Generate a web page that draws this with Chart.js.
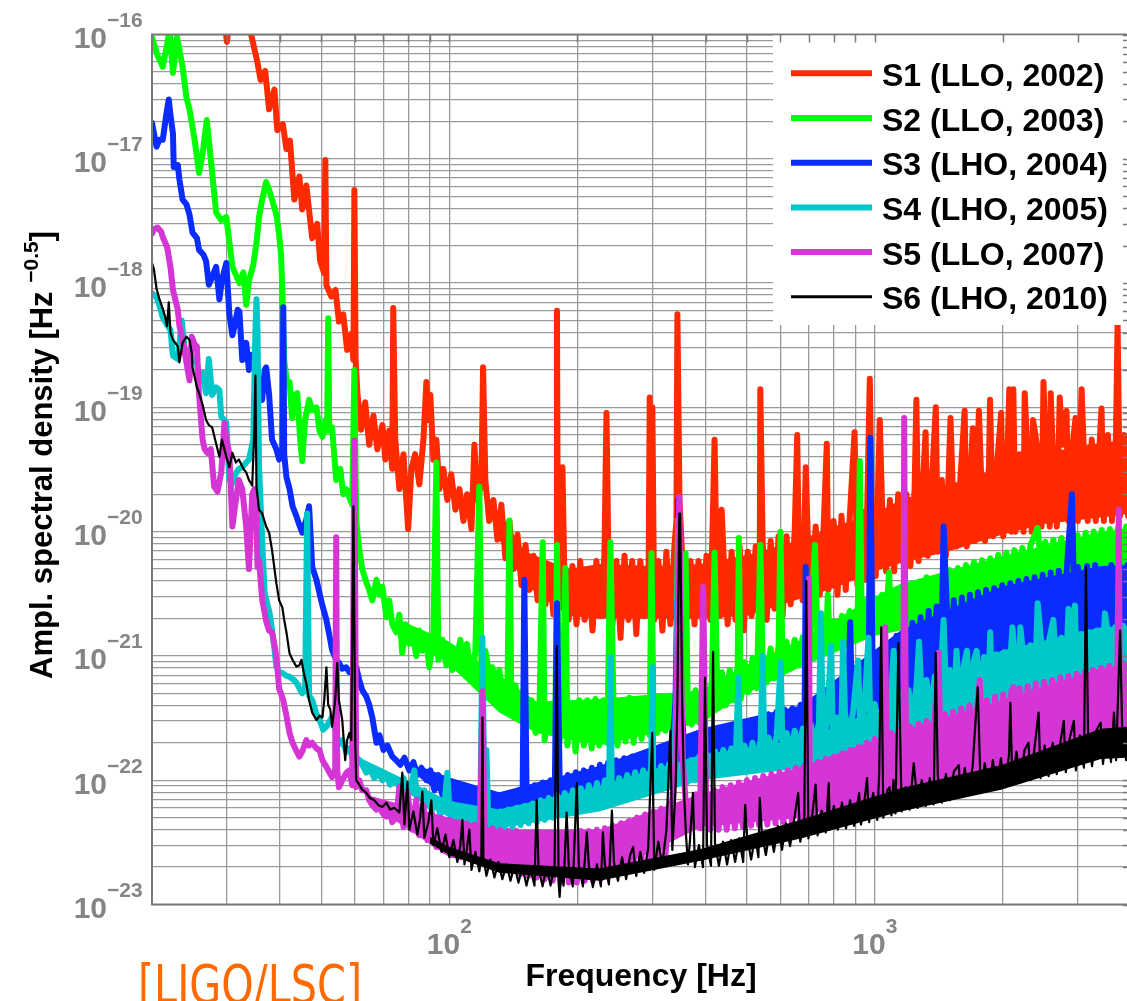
<!DOCTYPE html>
<html><head><meta charset="utf-8">
<script src="https://cdn.jsdelivr.net/npm/chart.js@4.4.1/dist/chart.umd.min.js"></script>
<style>html,body{margin:0;padding:0;overflow:hidden;background:#fff}canvas{display:block}</style>
</head><body>
<canvas id="c" width="1136" height="1001"></canvas>
<script>
// ---- data: [frequency Hz, amplitude spectral density Hz^-0.5] ----
const seriesLabels = ['S1 (LLO, 2002)','S2 (LLO, 2003)','S3 (LHO, 2004)','S4 (LHO, 2005)','S5 (LLO, 2007)','S6 (LHO, 2010)'];
const seriesColors = ['#ff2a00','#00ff00','#0a2cff','#00c8c8','#d535d5','#000000'];

const s1 = [[20,5e-16],[28.5,2.5e-16],[29.6,1.3e-16],[30,8.7e-17],[30.4,1.3e-16],[31,2e-16],[33.5,1.5e-16],[34.2,1e-16],[35.3,6.2e-17],[36,4.3e-17],[36.9,5.1e-17],[37.7,2.5e-17],[38.8,3.6e-17],[39.4,1.7e-17],[40.6,1.9e-17],[41.4,1.2e-17],[42.2,1.4e-17],[43.2,4.7e-18],[44.4,7.2e-18],[45.1,3.9e-18],[46.1,6.1e-18],[47.6,2.3e-18],[48.9,3e-18],[49.7,1.5e-18],[50.8,1.2e-18],[51.1,9.8e-18],[51.4,9.6e-19],[52.8,7.8e-19],[54,8.8e-19],[55,4.9e-19],[56.3,5.6e-19],[57.5,2.9e-19],[58.8,3.9e-19],[59.5,2.4e-19],[59.8,5.6e-18],[60.2,2.4e-19],[60.8,1.3e-19],[62,6.6e-20],[63.4,1.1e-19],[64.8,5e-20],[66.3,8.6e-20],[67.7,4.6e-20],[69.6,7.2e-20],[70.7,3.8e-20],[72.2,6.5e-20],[73.4,3.2e-20],[73.8,6.3e-19],[74.6,5.5e-20],[76.3,2.2e-20],[78,4.2e-20],[79.2,1.8e-20],[80,1.05e-20],[81.4,3.2e-20],[83.1,4.2e-20],[85,2.4e-20],[86.9,5.5e-20],[88.3,1.6e-19],[89.3,7.9e-20],[90.2,1.26e-19],[91.7,3.8e-20],[93.2,5.5e-20],[94.7,2.2e-20],[96.8,3.2e-20],[98.9,1.8e-20],[101,2.9e-20],[103.3,1.5e-20],[105.6,2.2e-20],[107.9,1.22e-20],[110,2e-20],[112.7,1.05e-20],[114.5,5e-20],[116.4,1.8e-20],[118.9,2.4e-20],[120,2.1e-19],[121.5,2.6e-20],[124,1.22e-20],[126.9,1.8e-20],[129.7,8.6e-21],[132.5,1.65e-20],[135.4,6.1e-21],[138.4,1.22e-20],[141.4,5e-21],[144.6,9.5e-21],[147.7,3.7e-21],[151,7.8e-21],[154.3,3.4e-21],[157.7,6.4e-21],[161.2,2.8e-21],[164.6,5.8e-21],[168.2,2.6e-21],[172,5.3e-21],[175.6,2.15e-21],[178.3,2.8e-21],[179,6e-19],[180,2.8e-21],[181.6,5.8e-21],[183.4,2.8e-21],[184.4,3.3e-20],[186.4,4.1e-21],[190.6,1.95e-21],[194.7,5.3e-21],[199,1.8e-21],[203,5.8e-21],[208,1.95e-21],[212,5e-21],[217,1.6e-21],[221.6,5.8e-21],[226.5,2.1e-21],[231.4,6.4e-21],[234,9e-20],[236.5,5.8e-21],[241.7,1.8e-21],[247,5.8e-21],[252.5,1.4e-21],[258,6.4e-21],[263.6,1.95e-21],[269,5.8e-21],[275,1.5e-21],[281,5.8e-21],[288,2.1e-21],[294,5.3e-21],[295.7,1.2e-19],[298.5,5.8e-21],[300,1e-19],[303,1.95e-21],[310,5.8e-21],[316.7,1.6e-21],[323.6,6.9e-21],[330.7,1.8e-21],[338,7.6e-21],[341.7,1.22e-20],[343.5,5.6e-19],[347.4,1.8e-20],[353,5.8e-21],[360.8,1.95e-21],[368.7,5.8e-21],[376.8,1.8e-21],[385,5.8e-21],[393.5,1.95e-21],[402,6.4e-21],[410.9,1.95e-21],[420,5.5e-20],[424.6,5.8e-21],[431.8,2.1e-21],[436.5,1.5e-20],[441,6.4e-21],[450.8,1.8e-21],[460.6,6.9e-21],[470.7,1.95e-21],[481,7.6e-21],[491.6,1.6e-21],[502.5,6.9e-21],[513.5,2.1e-21],[524.7,7.6e-21],[536,2.4e-21],[538,1.4e-19],[544.8,8.4e-21],[556.7,1.95e-21],[569,8.4e-21],[581,2.4e-21],[594,9.2e-21],[607,2.1e-21],[620,9.2e-21],[634,2.6e-21],[648,1e-20],[657,6e-20],[662,8.4e-21],[676.5,2.8e-21],[688,3.3e-20],[695,1e-20],[710,2.8e-21],[726,1.1e-20],[742,3.1e-21],[758,1.1e-20],[771,5.1e-20],[777.6,3.4e-21],[800,1.22e-20],[817,3.1e-21],[835,1.34e-20],[854,3.4e-21],[872,1.22e-20],[896,6.3e-20],[910,3.7e-21],[931,1.46e-20],[952,4.1e-21],[973,1.7e-19],[983,1.46e-20],[1005,4.4e-21],[1027,7.9e-20],[1040,1.6e-20],[1063,4.8e-21],[1085,1.8e-20],[1110,4.8e-21],[1135,2e-20],[1160,5.8e-21],[1186,2e-20],[1212,5.3e-21],[1240,2.2e-20],[1252,1.15e-19],[1267,5.8e-21],[1295,2.2e-20],[1316,6.3e-20],[1331,6.4e-21],[1360,2.4e-20],[1391,1e-19],[1406,6.9e-21],[1437,2.6e-20],[1469,6.4e-21],[1506,8.2e-20],[1522,2.6e-20],[1556,7.6e-21],[1591,2.9e-20],[1626,9.4e-20],[1644,7.6e-21],[1681,3.2e-20],[1699,6.8e-20],[1718,8.4e-21],[1756,9.4e-20],[1775,3.2e-20],[1815,8.4e-21],[1855,3.5e-20],[1865,1.15e-19],[1896,9.2e-21],[1938,3.5e-20],[1981,9e-20],[2003,9.2e-21],[2048,3.9e-20],[2070,1.4e-19],[2093,1e-20],[2116,1.4e-19],[2140,1e-20],[2188,4.2e-20],[2236,1e-20],[2250,1.3e-19],[2286,4.2e-20],[2337,1e-20],[2354,7.9e-20],[2412,4.6e-20],[2465,1.1e-20],[2491,1.6e-19],[2520,4.6e-20],[2577,1.1e-20],[2590,1.3e-19],[2619,4.6e-20],[2677,1.1e-20],[2720,1.2e-19],[2760,5e-20],[2822,9.4e-20],[2850,1.22e-20],[2916,5e-20],[2963,8.2e-20],[3000,1.22e-20],[3062,1.4e-19],[3095,5e-20],[3165,1.22e-20],[3235,5.5e-20],[3306,1.22e-20],[3379,5.5e-20],[3410,9.8e-20],[3453,1.22e-20],[3530,6e-20],[3608,1.22e-20],[3688,6e-20],[3720,4.8e-19],[3769,1.34e-20],[3853,6e-20],[3938,1.34e-20],[4000,5.5e-20]];

const s2 = [[20,9.5e-17],[20.6,6.8e-17],[21.2,5.5e-17],[21.7,8.2e-17],[22,1.1e-16],[22.4,4.9e-17],[22.9,9.5e-17],[23.2,7.5e-17],[23.6,5.5e-17],[24.1,3.1e-17],[24.5,2.5e-17],[25.2,1.4e-17],[25.8,7.7e-18],[26.3,1.1e-17],[26.9,2.05e-17],[27.5,9.8e-18],[28.3,3.7e-18],[29.1,3.2e-18],[29.9,3.4e-18],[30.9,1.35e-18],[32.1,1e-18],[32.8,1.22e-18],[33.3,6.7e-19],[33.8,1.05e-18],[34.6,1.4e-18],[35.2,2.1e-18],[35.7,3.4e-18],[36.3,4.7e-18],[37.1,6.5e-18],[37.7,5.6e-18],[38.3,4.7e-18],[39.2,3.55e-18],[39.8,2.45e-18],[40.2,1.7e-18],[40.5,8.8e-19],[40.9,2.4e-19],[41.6,1.5e-19],[42.1,1.6e-19],[42.7,8.2e-20],[43.4,1.26e-19],[43.9,1.3e-19],[44.6,5.5e-20],[45.1,3.7e-20],[45.8,7.9e-20],[46.8,1.15e-19],[47.6,9.5e-20],[48.7,1e-19],[49.5,6.5e-20],[50.3,5.8e-20],[51.1,7.9e-20],[51.6,6.5e-20],[51.9,5.2e-19],[52.2,6.5e-20],[53,6.9e-20],[54.2,2.6e-20],[55.4,3.2e-20],[56.3,2e-20],[57.2,2.2e-20],[58.5,1.8e-20],[59.1,1.65e-20],[59.8,2e-19],[60.4,1.23e-20],[61.4,7.2e-21],[62.4,5e-21],[63.8,3.9e-21],[64.8,3.4e-21],[65.9,2.8e-21],[67.4,4.1e-21],[68.5,3.1e-21],[69.6,3.6e-21],[71.1,2.05e-21],[72.2,2.8e-21],[73.4,1.8e-21],[75,1.55e-21],[76.3,2.15e-21],[77.5,1.05e-21],[78.8,1.8e-21],[80.5,1.25e-21],[81.8,1.55e-21],[83.6,1e-21],[85,1.6e-21],[86.4,1.1e-21],[88.3,1.35e-21],[89.7,8.1e-22],[91.7,1.45e-21],[93.2,3.6e-20],[94.2,9.3e-22],[96.3,1.35e-21],[98.4,8.4e-22],[100,1.1e-21],[101.6,7.7e-22],[103.9,9.3e-22],[106.1,1.35e-21],[108.5,7.7e-22],[110,1.25e-21],[112.7,6.4e-22],[115.1,1.1e-21],[117.6,2.3e-20],[118.9,8.4e-22],[121.5,1.1e-21],[124.2,7e-22],[126.3,8.1e-22],[129,5.3e-22],[131,7.7e-22],[134,4.4e-22],[137,6.4e-22],[138.4,1.23e-20],[139.9,4e-22],[143,5.8e-22],[146,3.3e-22],[149.3,5.3e-22],[152.6,3.2e-22],[156,4.4e-22],[159.5,2.4e-22],[163,4.4e-22],[165.7,8.2e-21],[167.4,2.1e-22],[171,4e-22],[174.8,2.5e-22],[177.6,4e-22],[179,7.8e-21],[181.6,2.1e-22],[184.4,4e-22],[187.4,5.1e-21],[189.4,1.9e-22],[193.6,4e-22],[198,1.7e-22],[202,4.4e-22],[207,1.9e-22],[211,4.4e-22],[216,1.8e-22],[220.5,4.5e-22],[225,1.9e-22],[230,4.4e-22],[235,2e-22],[239,8.2e-21],[243,4.4e-22],[248.5,1.9e-22],[254,4.4e-22],[259.5,2.05e-22],[265,4.6e-22],[271,2e-22],[277,4.5e-22],[283,2.15e-22],[289,4.4e-22],[295.6,2.3e-22],[298.5,6.7e-21],[301.5,4.4e-22],[308,2.4e-22],[315,4.4e-22],[322,2.5e-22],[329,4.5e-22],[336,2.6e-22],[341,4.7e-22],[344.6,1e-20],[348,4.5e-22],[351,2.7e-22],[359,6.7e-21],[363,5e-22],[371,2.8e-22],[379,5.3e-22],[387,2.9e-22],[396,5.8e-22],[405,3.3e-22],[414,6.4e-22],[420,6.8e-21],[427,3.8e-22],[437,7.4e-22],[446,4e-22],[456,7.7e-22],[466,4.4e-22],[476,8.4e-22],[479,8.9e-21],[484,4.5e-22],[494,8.9e-22],[505,5.1e-22],[516,9.6e-22],[528,5.5e-22],[538,7.8e-21],[544,1.07e-21],[556,6.1e-22],[569,1.15e-21],[581,6.6e-22],[594,1.2e-21],[600,1e-20],[607,7.3e-22],[620,1.3e-21],[634,7.9e-22],[648,1.35e-21],[662,8.4e-22],[677,1.42e-21],[692,8.9e-22],[707,1.55e-21],[723,7.8e-21],[735,1e-21],[751,1.75e-21],[767,1.1e-21],[775,3.1e-21],[784,1.16e-21],[801,1.9e-21],[819,1.22e-21],[837,2.1e-21],[855,1.35e-21],[873,2.3e-21],[893,1.45e-21],[912,2.55e-21],[922,3.7e-20],[932,1.55e-21],[952,2.8e-21],[973,1.65e-21],[995,2.95e-21],[1016,1.75e-21],[1039,3.1e-21],[1062,1.95e-21],[1080,4.7e-21],[1093,2.05e-21],[1117,3.4e-21],[1142,2.15e-21],[1167,3.6e-21],[1193,2.25e-21],[1219,3.7e-21],[1246,2.45e-21],[1274,3.9e-21],[1302,2.55e-21],[1323,4.3e-21],[1345,2.65e-21],[1375,4.2e-21],[1405,2.8e-21],[1436,4.4e-21],[1468,2.9e-21],[1500,4.9e-21],[1533,3.1e-21],[1567,5.1e-21],[1602,3.2e-21],[1637,5.4e-21],[1673,3.4e-21],[1710,5.7e-21],[1748,3.5e-21],[1787,5.9e-21],[1826,3.7e-21],[1867,6.1e-21],[1908,3.9e-21],[1950,6.5e-21],[1993,4.1e-21],[2037,6.8e-21],[2082,4.2e-21],[2128,7.1e-21],[2175,4.5e-21],[2223,7.4e-21],[2272,4.7e-21],[2323,7.8e-21],[2414,1.07e-20],[2460,4.9e-21],[2515,8.3e-21],[2570,5.1e-21],[2627,8.6e-21],[2685,5.4e-21],[2745,8.9e-21],[2805,5.6e-21],[2867,9.2e-21],[2930,5.7e-21],[2995,9.4e-21],[3062,5.9e-21],[3130,9.8e-21],[3199,6.2e-21],[3269,1e-20],[3342,6.4e-21],[3415,1.03e-20],[3491,6.5e-21],[3568,1.05e-20],[3647,6.8e-21],[3727,1.07e-20],[3810,6.9e-21],[3894,1.1e-20],[4000,7e-21]];

const s3 = [[20,1.94e-17],[20.5,1.25e-17],[20.8,1.42e-17],[21.2,1.42e-17],[21.6,2.25e-17],[21.9,3e-17],[22.1,2.25e-17],[22.4,1.6e-17],[22.5,8.6e-18],[23,8.9e-18],[23.2,6.8e-18],[23.6,4.7e-18],[24.1,4.3e-18],[24.5,3.55e-18],[24.9,2.55e-18],[25.5,2.3e-18],[25.8,1.85e-18],[26.4,1.7e-18],[26.8,1.5e-18],[27.2,9.7e-19],[27.7,1.12e-18],[28.3,1.35e-18],[28.8,7.4e-19],[29.2,1.06e-18],[29.9,1.45e-18],[30.4,5.6e-19],[30.9,3.8e-19],[31.3,4.6e-19],[31.8,6.1e-19],[32.1,5.9e-19],[32.6,2.4e-19],[33.3,3.3e-19],[33.8,2e-19],[34.4,2.65e-19],[35.2,2.2e-19],[35.7,1.38e-19],[36.3,1.15e-19],[36.8,2e-19],[37.1,2.1e-19],[37.7,1.26e-19],[38.3,5.5e-20],[39.2,4.6e-20],[39.8,3.8e-20],[40.5,4.2e-20],[40.7,6.4e-19],[40.9,4.2e-20],[41.4,2.75e-20],[42.1,2.2e-20],[42.8,1.6e-20],[43.6,1.36e-20],[44.4,1.13e-20],[45.1,9.8e-21],[46.1,1.25e-20],[46.8,1.6e-20],[47.6,5.2e-21],[48.7,4.1e-21],[49.5,3.2e-21],[50.3,2.55e-21],[51.4,1.95e-21],[52.2,1.48e-21],[53,1.12e-21],[54.2,9.3e-22],[55,8.8e-22],[56,7.9e-22],[57.2,8.1e-22],[58.2,7.4e-22],[59.5,7.9e-22],[60.4,8.1e-22],[61.4,6.4e-22],[62.4,5.3e-22],[63.8,4.7e-22],[64.8,4.05e-22],[65.9,3.2e-22],[67.4,2e-22],[68.5,2.3e-22],[70,1.75e-22],[71.5,1.9e-22],[73.4,1.55e-22],[75,1.45e-22],[76.7,1.33e-22],[78.4,1.52e-22],[80.5,1.2e-22],[82.3,1.4e-22],[84.1,1.1e-22],[86,1.26e-22],[88.3,1e-22],[90.2,1.2e-22],[92.2,8.3e-23],[94.2,1.1e-22],[96.3,7.6e-23],[98.4,1e-22],[100.5,6.9e-23],[102.7,9.2e-23],[105,6.3e-23],[107.3,8.3e-23],[109.6,5.8e-23],[112,8e-23],[114.5,5.3e-23],[117,7.6e-23],[119.6,4.8e-23],[122.2,7.3e-23],[124.9,4.6e-23],[127.6,7.6e-23],[130.4,4.4e-23],[133.2,7.6e-23],[136.2,4.6e-23],[139.2,7.9e-23],[142.2,4.8e-23],[145.3,8.3e-23],[148.5,5e-23],[150,4.1e-21],[151.8,8.6e-23],[155,5.3e-23],[158.5,9.1e-23],[162,5.5e-23],[165.6,9.6e-23],[169.2,5.8e-23],[172.9,1e-22],[176.7,6e-23],[179,2.65e-21],[181.6,1.05e-22],[185.6,6.3e-23],[189.7,1.1e-22],[193.9,6.5e-23],[198.2,1.16e-22],[202.6,6.9e-23],[207,1.2e-22],[211.6,7.2e-23],[216.2,1.26e-22],[221,7.6e-23],[225.8,1.33e-22],[230.8,7.6e-23],[235.9,1.38e-22],[241.1,8e-23],[246.4,1.45e-22],[251.9,8.3e-23],[257.4,1.5e-22],[263.1,8.6e-23],[268.9,1.55e-22],[274.8,9e-23],[280.8,1.6e-22],[287,9.3e-23],[293.3,1.65e-22],[299.8,9.6e-23],[306.4,1.75e-22],[313.1,1e-22],[320,1.8e-22],[327,1.04e-22],[334.2,1.9e-22],[340,4.3e-22],[343,2.7e-21],[344.6,1.8e-20],[346,2.7e-21],[350,4.3e-22],[356,2e-22],[363,2.05e-22],[371,1.26e-22],[379.6,2.2e-22],[388,1.33e-22],[396.6,2.3e-22],[405,1.38e-22],[414,2.4e-22],[423,1.45e-22],[432,2.5e-22],[442,1.55e-22],[451.9,2.65e-22],[462,1.6e-22],[472,2.8e-22],[482,1.7e-22],[493,2.95e-22],[504,1.75e-22],[515,3.05e-22],[526,1.8e-22],[538,3.2e-22],[550,1.9e-22],[562,3.4e-22],[574,2e-22],[587,3.55e-22],[600,2.1e-22],[613,3.7e-22],[626,2.2e-22],[640,3.8e-22],[654,2.3e-22],[669,4.05e-22],[683,2.3e-22],[688,5.2e-21],[698,4.2e-22],[713,2.4e-22],[729,4.4e-22],[745,2.5e-22],[761,4.6e-22],[778,2.6e-22],[795,4.85e-22],[812,2.8e-22],[830,5.1e-22],[848,2.95e-22],[866,5.5e-22],[875,1.87e-21],[885,3.2e-22],[905,6.4e-22],[925,3.4e-22],[945,7.4e-22],[966,3.55e-22],[976,5.7e-20],[987,8.9e-22],[1009,3.7e-22],[1031,1.07e-21],[1053,4.05e-22],[1077,1.22e-21],[1100,4.2e-22],[1124,1.45e-21],[1149,4.4e-22],[1174,1.65e-21],[1200,4.5e-22],[1226,1.85e-21],[1253,4.8e-22],[1281,2.05e-21],[1309,5.1e-22],[1338,2.3e-21],[1367,5.3e-22],[1397,2.5e-21],[1428,5.5e-22],[1451,1.1e-20],[1475,2.65e-21],[1500,5.8e-22],[1533,2.8e-21],[1567,6.4e-22],[1602,2.95e-21],[1637,7e-22],[1673,3.1e-21],[1710,7.7e-22],[1748,3.25e-21],[1787,8.4e-22],[1826,3.4e-21],[1867,9.3e-22],[1908,3.5e-21],[1950,9.8e-22],[1993,3.7e-21],[2037,1.04e-21],[2082,3.85e-21],[2128,1.1e-21],[2175,4e-21],[2223,1.16e-21],[2272,4.15e-21],[2323,1.22e-21],[2374,4.3e-21],[2426,1.27e-21],[2480,4.5e-21],[2535,1.35e-21],[2590,4.7e-21],[2648,1.4e-21],[2706,4.85e-21],[2766,1.45e-21],[2827,5.05e-21],[2905,2e-20],[2953,1.5e-21],[3000,5.2e-21],[3086,1.55e-21],[3154,5.3e-21],[3223,1.6e-21],[3294,5.4e-21],[3367,1.65e-21],[3441,4.1e-21],[3517,3.3e-21],[3594,5.4e-21],[3673,1.7e-21],[3754,5.4e-21],[3837,1.75e-21],[3921,5.4e-21],[4000,1.78e-21]];

const s4 = [[20,8.3e-19],[20.5,7.7e-19],[20.8,6.7e-19],[21.2,5.3e-19],[21.7,4.6e-19],[22.1,4.2e-19],[22.4,2.6e-19],[23,2.45e-19],[23.2,3.2e-19],[23.5,5e-19],[23.8,3.2e-19],[24.1,2.65e-19],[24.5,2.8e-19],[24.9,2.45e-19],[25.5,2.3e-19],[25.8,1.7e-19],[26.3,1.9e-19],[26.8,1.3e-19],[27.2,2.45e-19],[27.7,1.26e-19],[28.3,1.45e-19],[28.8,1.38e-19],[29.1,8.4e-20],[29.6,7.9e-20],[29.9,7.5e-20],[30.4,2.6e-20],[30.9,2.45e-20],[31.5,2.95e-20],[32,3.2e-20],[32.6,3.3e-20],[33.3,3.6e-20],[33.8,3.8e-20],[34.6,5.5e-20],[35,4.2e-19],[35.2,7.4e-19],[35.4,4.2e-19],[35.7,3.3e-20],[36.3,8.6e-21],[36.8,3.2e-21],[37.1,2.85e-21],[37.7,2.3e-21],[38.1,1.85e-21],[38.7,1.23e-21],[39.2,8.2e-22],[39.8,7.4e-22],[40.5,7.3e-22],[41.4,6.9e-22],[42.1,6.8e-22],[43.1,6.4e-22],[43.7,6.1e-22],[44.4,5.5e-22],[45.1,5e-22],[45.8,5.3e-22],[46.3,1.4e-20],[46.8,4.8e-22],[47.6,4.4e-22],[48.7,3.4e-22],[49.5,3.1e-22],[50.5,2.55e-22],[51.4,2.7e-22],[52.2,2.95e-22],[53,3.25e-22],[54.2,2.35e-22],[55,1.95e-22],[56,2.1e-22],[57.2,1.7e-22],[58.2,1.8e-22],[59.1,1.55e-22],[59.8,4.4e-22],[60.4,1.55e-22],[61.4,1.45e-22],[62.4,1.33e-22],[63.8,1.15e-22],[65,1.26e-22],[66.6,1.04e-22],[68.1,1.16e-22],[69.6,1e-22],[71.1,1.1e-22],[72.6,9.2e-23],[74.2,1.04e-22],[76.3,8.8e-23],[78,1.04e-22],[79.7,8.3e-23],[81.8,1e-22],[82.7,1.2e-22],[83.6,8.3e-23],[85.4,7.2e-23],[87.3,8.3e-23],[89.3,6.3e-23],[91.2,5.8e-23],[93.2,6.9e-23],[95.2,5.3e-23],[97.3,6.3e-23],[98.9,1.15e-22],[100,6e-23],[102.2,5e-23],[104.4,6e-23],[106.7,4.6e-23],[109.1,5.8e-23],[111.4,4.4e-23],[113.9,5.6e-23],[116.4,4.2e-23],[118.2,5.6e-23],[119.6,1.4e-21],[120.9,5.6e-23],[122.2,1.75e-22],[123.5,4.2e-23],[126.3,5.6e-23],[129,4e-23],[131.8,5.6e-23],[134.7,4e-23],[137.7,5.8e-23],[140.7,4.2e-23],[143.8,6e-23],[147,4.35e-23],[150.2,6.2e-23],[153.5,4.5e-23],[156.9,6.5e-23],[160.4,4.6e-23],[163.9,6.9e-23],[167.5,4.8e-23],[171.2,7.2e-23],[174.9,5e-23],[178.8,7.6e-23],[182.7,5.3e-23],[186.7,7.9e-23],[190.8,5.5e-23],[195,8.3e-23],[199.3,5.8e-23],[203.7,8.6e-23],[208.2,6e-23],[212.7,9.1e-23],[217.4,6.2e-23],[222.2,9.5e-23],[227,6.4e-23],[232,1e-22],[237.1,6.6e-23],[239.3,9.8e-22],[240.7,1e-22],[245.2,6.9e-23],[250.6,1.04e-22],[256.1,7.2e-23],[261.7,1.1e-22],[267.5,7.6e-23],[273.4,1.16e-22],[279.4,7.9e-23],[285.5,1.2e-22],[291.8,8.1e-23],[298.2,1.26e-22],[299.8,8.1e-22],[301,1.26e-22],[307.7,8.4e-23],[314.4,1.3e-22],[321.3,8.8e-23],[328.4,1.35e-22],[335.6,1e-22],[341.6,4.4e-22],[344.8,1.25e-20],[348.3,4.4e-22],[354,1.33e-22],[361.9,9.6e-23],[369.9,1.45e-22],[378.1,1e-22],[386.4,1.55e-22],[394.9,1.06e-22],[403.6,1.6e-22],[412.5,1.12e-22],[421.6,1.7e-22],[430.9,1.16e-22],[440.4,1.75e-22],[450.1,1.2e-22],[460,1.8e-22],[470.1,1.26e-22],[478,6.7e-22],[483.2,1.33e-22],[493.9,1.9e-22],[504.8,1.33e-22],[515.9,2e-22],[527.3,1.4e-22],[538.9,2.1e-22],[544.8,1e-21],[550.8,1.45e-22],[562.9,2.2e-22],[575.3,1.55e-22],[588,2.3e-22],[601,8.9e-22],[607,1.6e-22],[620,2.4e-22],[634,1.7e-22],[648,2.5e-22],[662,1.75e-22],[677,2.6e-22],[692,1.8e-22],[707,2.8e-22],[723,1.95e-22],[739,2.9e-22],[747,2.2e-21],[755,2e-22],[772,3e-22],[789,1.2e-21],[797,2.1e-22],[815,3.2e-22],[833,2.2e-22],[842,1.3e-21],[851,3.4e-22],[870,2.3e-22],[889,3.55e-22],[913,9.2e-22],[925,2.4e-22],[945,3.8e-22],[966,1.4e-21],[977,2.5e-22],[999,4.1e-22],[1021,2.5e-22],[1044,4.4e-22],[1067,2.6e-22],[1091,4.65e-22],[1107,1.1e-21],[1124,2.6e-22],[1149,5e-22],[1174,2.8e-22],[1200,5.3e-22],[1226,3e-22],[1253,5.8e-22],[1270,1.3e-21],[1295,3.2e-22],[1323,6.4e-22],[1352,3.3e-22],[1382,6.8e-22],[1413,3.4e-22],[1451,1.95e-21],[1475,3.5e-22],[1500,7.7e-22],[1533,3.7e-22],[1556,1.1e-21],[1584,3.9e-22],[1619,8.4e-22],[1646,1.1e-21],[1673,4.1e-22],[1710,9.2e-22],[1735,1.1e-21],[1767,4.3e-22],[1806,9.8e-22],[1846,4.5e-22],[1867,1.55e-21],[1887,4.6e-22],[1929,1.03e-21],[1971,4.7e-22],[2015,1.07e-21],[2059,4.7e-22],[2105,1.7e-21],[2128,1.1e-21],[2175,4.9e-22],[2198,1.7e-21],[2223,1.16e-21],[2272,5e-22],[2323,1.22e-21],[2374,5.1e-22],[2414,2.65e-21],[2460,1.3e-21],[2515,5.2e-22],[2570,1.35e-21],[2628,1.95e-21],[2685,5.4e-22],[2745,1.4e-21],[2805,5.5e-22],[2852,2.4e-21],[2900,1.45e-21],[2953,2.55e-21],[2985,5.6e-22],[3050,1.5e-21],[3118,5.8e-22],[3186,1.55e-21],[3256,5.9e-22],[3327,1.6e-21],[3400,6e-22],[3474,2.2e-21],[3517,1.65e-21],[3594,6.2e-22],[3673,1.7e-21],[3754,6.4e-22],[3837,1.75e-21],[3921,6.6e-22],[4000,1.78e-21]];

const s5 = [[20,2.5e-18],[20.2,2.7e-18],[20.6,2.8e-18],[21,2.6e-18],[21.2,2.35e-18],[21.7,1.95e-18],[22.1,1.35e-18],[22.4,8.8e-19],[23,6.1e-19],[23.2,4.5e-19],[23.6,3.5e-19],[24.1,2.3e-19],[24.5,1.65e-19],[24.8,3.7e-19],[25.2,3.2e-19],[25.5,3.1e-19],[25.8,1.26e-19],[26.3,5.5e-20],[26.6,4.6e-20],[27,4.3e-20],[27.5,4.6e-20],[28,2.3e-20],[28.5,2.1e-20],[29.1,3e-20],[29.6,7.5e-20],[29.9,5.5e-20],[30.4,4.3e-20],[30.9,1.1e-20],[31.5,1.8e-20],[32,2.6e-20],[32.6,2.2e-20],[33.3,1.1e-20],[33.8,5e-21],[34.4,2e-20],[34.8,2.2e-20],[35.2,1.25e-20],[35.4,5.2e-21],[35.7,5.9e-21],[36.3,2.85e-21],[37.1,1.9e-21],[37.7,1.6e-21],[38.3,1.55e-21],[39,1.12e-21],[39.4,8.2e-22],[39.8,5.4e-22],[40.2,5e-22],[40.7,4.4e-22],[41.4,3.3e-22],[42.1,2.4e-22],[42.8,2e-22],[43.4,1.8e-22],[44.4,1.55e-22],[45.1,1.7e-22],[46.1,2.1e-22],[46.8,1.9e-22],[47.6,2e-22],[48.7,1.8e-22],[49.5,1.75e-22],[50.3,1.45e-22],[51.4,1.28e-22],[52.2,1.16e-22],[53,1.06e-22],[53.9,1.2e-22],[54.2,9e-21],[54.5,1.2e-22],[55,8.8e-23],[56,1e-22],[57.2,1.14e-22],[58.2,1.2e-22],[59.1,9.1e-23],[59.8,5.4e-20],[60.4,8.8e-23],[61.4,1e-22],[62.4,8.3e-23],[63.8,8.3e-23],[64.8,6.9e-23],[65.9,6.3e-23],[67.4,5.8e-23],[68.5,6e-23],[70,5.3e-23],[71.1,5.1e-23],[72.2,5.6e-23],[73.4,4.6e-23],[75,5e-23],[76.3,8.8e-23],[78,4.2e-23],[79.7,8e-23],[81.8,4e-23],[83.6,7e-23],[85,3.6e-23],[86.9,6.3e-23],[88.8,3.3e-23],[91.2,5.3e-23],[93.2,2.9e-23],[95.2,5e-23],[97.3,2.7e-23],[100,4.8e-23],[102.2,2.5e-23],[104.4,4.6e-23],[106.7,2.4e-23],[109.6,4.5e-23],[112,2.3e-23],[114.5,4.4e-23],[117,2.2e-23],[118.2,4.3e-23],[119.6,5.2e-22],[120.9,4.3e-23],[123.5,2.1e-23],[126.3,4.1e-23],[129,2e-23],[131.8,4e-23],[134.7,1.95e-23],[137.7,3.9e-23],[140.7,1.85e-23],[143.8,3.9e-23],[147,1.75e-23],[150.2,3.8e-23],[153.5,1.7e-23],[156.9,3.8e-23],[160.4,1.65e-23],[163.9,3.8e-23],[167.5,1.6e-23],[171.2,3.8e-23],[174.9,1.55e-23],[178.8,3.8e-23],[182.7,1.5e-23],[186.7,3.8e-23],[190.8,1.5e-23],[195,3.8e-23],[199.3,1.5e-23],[203.7,3.9e-23],[208.2,1.55e-23],[212.7,3.9e-23],[217.4,1.55e-23],[222.2,4e-23],[227,1.6e-23],[232,4.1e-23],[237.1,1.7e-23],[242.3,4.3e-23],[247.7,1.8e-23],[253.2,4.5e-23],[258.7,1.9e-23],[264.4,4.7e-23],[270.2,2e-23],[276.2,5e-23],[282.3,2.1e-23],[288.5,5.3e-23],[294.9,2.2e-23],[301.5,5.6e-23],[308,2.25e-23],[314.6,5.9e-23],[321.4,2.3e-23],[328.4,6.2e-23],[334,6.9e-23],[340,1.45e-22],[343.5,1.1e-21],[347,1.9e-20],[350,1.1e-21],[353.6,1.45e-22],[359,6.9e-23],[365,4.8e-23],[371,4.35e-23],[379.6,7.7e-23],[388,4.1e-23],[394.9,3.6e-21],[401,7.9e-23],[410,4e-23],[419.7,8.3e-23],[429,4e-23],[438.7,8.8e-23],[448.5,4e-23],[458.5,9.1e-23],[468.7,4.1e-23],[479,9.6e-23],[489.8,4.2e-23],[500.7,1e-22],[511.8,4.3e-23],[523,1.04e-22],[534.8,4.35e-23],[546.7,1.08e-22],[558.8,4.4e-23],[571.3,1.12e-22],[584,4.5e-23],[597,1.16e-22],[610,4.6e-23],[624,1.2e-22],[638,4.65e-23],[652,1.26e-22],[666.5,4.8e-23],[681,1.3e-22],[696,4.9e-23],[700,4.2e-21],[703,1.3e-22],[719,5.1e-23],[735,1.4e-22],[752,5.3e-23],[768,1.48e-22],[785,5.5e-23],[803,1.55e-22],[821,5.7e-23],[839,1.65e-22],[858,5.9e-23],[877,1.75e-22],[896,6.2e-23],[916,1.85e-22],[937,6.4e-23],[958,2e-22],[979,6.6e-23],[1000,2.15e-22],[1023,6.9e-23],[1045,2.25e-22],[1058,1.7e-21],[1068,7.1e-23],[1092,2.4e-22],[1116,7.6e-23],[1141,2.55e-22],[1166,8.3e-23],[1172,8.2e-20],[1185,8.3e-23],[1211,2.7e-22],[1238,8.6e-23],[1266,2.85e-22],[1294,9e-23],[1323,3e-22],[1353,9.3e-23],[1383,3.2e-22],[1413,1.06e-21],[1429,9.7e-23],[1461,3.4e-22],[1494,1e-22],[1527,3.55e-22],[1561,1.04e-22],[1596,3.8e-22],[1632,1.08e-22],[1668,4e-22],[1705,1.12e-22],[1743,4.2e-22],[1764,6.4e-22],[1794,1.16e-22],[1834,4.4e-22],[1875,1.2e-22],[1917,4.7e-22],[1960,1.26e-22],[2003,4.9e-22],[2048,1.3e-22],[2094,5.2e-22],[2117,5.6e-22],[2140,1.35e-22],[2188,5.5e-22],[2237,1.4e-22],[2287,5.7e-22],[2338,1.45e-22],[2390,6e-22],[2443,1.5e-22],[2498,6.2e-22],[2554,1.55e-22],[2611,6.4e-22],[2669,1.6e-22],[2729,6.7e-22],[2790,1.65e-22],[2852,6.9e-22],[2916,1.72e-22],[2981,7.2e-22],[3047,1.8e-22],[3115,7.4e-22],[3185,1.85e-22],[3256,7.7e-22],[3328,1.9e-22],[3403,8e-22],[3479,1.92e-22],[3556,8.3e-22],[3636,1.95e-22],[3717,8.5e-22],[3745,1.5e-20],[3770,2e-22],[3850,8.7e-22],[3930,2.05e-22],[4000,9e-22]];

const s6 = [[20,1.45e-18],[20.2,1.3e-18],[20.5,9e-19],[20.8,7.5e-19],[21.2,6.2e-19],[21.5,5.3e-19],[21.7,4.5e-19],[21.9,7e-19],[22.1,4e-19],[22.4,3.5e-19],[23,3.1e-19],[23.2,2.3e-19],[23.6,3.3e-19],[24.1,3.7e-19],[24.5,3.5e-19],[24.8,2.75e-19],[24.9,2.1e-19],[25.5,1.45e-19],[25.8,1.3e-19],[26.3,1.05e-19],[26.8,7.9e-20],[27.2,7.2e-20],[27.7,6.9e-20],[28.3,5.1e-20],[28.8,4e-20],[29.2,5.5e-20],[29.9,4e-20],[30.4,3.3e-20],[30.9,4.3e-20],[31.5,3.6e-20],[32,3.8e-20],[32.8,3.2e-20],[33.3,3e-20],[33.8,2.6e-20],[34.4,2.35e-20],[34.8,6.6e-20],[35,1.8e-19],[35.2,2.3e-20],[35.7,1.5e-20],[36.3,1.4e-20],[37.1,1.1e-20],[37.7,9.8e-21],[38.3,7.1e-21],[39.2,3.85e-21],[39.8,2.8e-21],[40.5,2.45e-21],[40.9,1.95e-21],[41.4,1.55e-21],[42.1,1.05e-21],[42.8,9.3e-22],[43.7,8.2e-22],[44.4,8.4e-22],[44.9,9.3e-22],[45.6,7e-22],[46.1,6e-22],[46.8,4.4e-22],[47.6,3.5e-22],[48.7,3.05e-22],[49.5,3.3e-22],[50.3,3.2e-22],[50.8,4.4e-22],[51.4,8.1e-22],[51.9,4.05e-22],[52.5,3.7e-22],[53,2.7e-22],[53.9,4.4e-22],[54.5,8.8e-22],[55,4.4e-22],[56,3.05e-22],[56.9,1.45e-22],[57.5,2.1e-22],[58.2,2.4e-22],[58.8,2.1e-22],[59.5,1.6e-20],[60.1,1.95e-22],[60.4,1e-22],[61.4,9.2e-23],[62.4,8.4e-23],[63.8,7.9e-23],[65,7.2e-23],[66.6,6.9e-23],[68.1,6.3e-23],[69.6,6.1e-23],[71.1,6.6e-23],[72.6,5.8e-23],[74.2,6e-23],[76.3,5.5e-23],[77.5,1.15e-22],[78.4,4.4e-23],[79.7,9.7e-23],[80.5,4e-23],[82.3,5.6e-23],[84.1,3.65e-23],[85.4,5e-23],[86.4,8.1e-23],[87.3,3.45e-23],[89.3,4.6e-23],[90.7,6.9e-23],[91.7,3e-23],[93.7,4.1e-23],[95.8,2.65e-23],[97.9,3.65e-23],[100,2.4e-23],[102.2,3.3e-23],[104.4,2.2e-23],[106.1,3e-23],[107.3,4.8e-23],[108.5,2.1e-23],[110,2.85e-23],[111.4,4e-23],[112.7,1.9e-23],[115.1,2.65e-23],[117.6,1.85e-23],[118.9,2.45e-23],[119.6,3.2e-22],[120.2,2.4e-23],[122.2,1.7e-23],[124.9,2.3e-23],[127.6,1.65e-23],[130.4,2.2e-23],[133.2,1.6e-23],[136.2,2.1e-23],[139.2,1.55e-23],[142.2,2.05e-23],[145.3,1.5e-23],[148.5,2e-23],[151.8,1.42e-23],[155,1.95e-23],[158.5,1.42e-23],[160.4,6.9e-23],[162,1.95e-23],[165.6,1.4e-23],[169.2,2e-23],[172.9,1.42e-23],[176.7,2.05e-23],[178.8,1.2e-21],[180.6,1.5e-23],[181.6,1.15e-23],[183.4,1.9e-23],[185.6,1.42e-23],[188.6,5.5e-23],[190.8,2.05e-23],[195,1.4e-23],[199.3,9.5e-23],[201.5,2.05e-23],[206,1.4e-23],[210.4,3.8e-23],[212.7,2.05e-23],[217.4,1.38e-23],[222.2,2.1e-23],[227,1.4e-23],[229.5,3.8e-23],[232,2.1e-23],[237.1,1.45e-23],[241,5.7e-23],[243.6,2.2e-23],[249,1.55e-23],[254.6,2.4e-23],[260.3,1.6e-23],[266,2.5e-23],[270.2,2.9e-23],[274.9,1.7e-23],[281,2.65e-23],[287,1.8e-23],[293.3,2.85e-23],[299.8,2.4e-22],[303,1.9e-23],[309.7,3.2e-23],[316.6,2.1e-23],[323.7,4e-23],[330.7,2.5e-22],[334.2,2.75e-23],[340,8.3e-23],[343.5,4.4e-22],[347,1.4e-20],[348.7,1.4e-20],[352.4,4.4e-22],[356,8.3e-23],[359.8,3.65e-23],[363.7,2.1e-23],[367.7,3.3e-23],[373.6,7.9e-23],[377.6,2e-23],[386,3e-23],[394.6,2e-23],[398.9,6.7e-22],[403.2,3e-23],[412,2.05e-23],[416.6,1.08e-21],[421,3.1e-23],[430,2.05e-23],[439.8,3.2e-23],[449.5,2.1e-23],[459.4,3.3e-23],[469.5,2.2e-23],[479.8,3.4e-23],[490.4,2.2e-23],[495.7,6.3e-23],[501,3.5e-23],[512,2.3e-23],[523.5,3.6e-23],[532.5,2.4e-23],[536.5,7.2e-23],[542.3,3.8e-23],[554.4,2.5e-23],[566.6,4e-23],[579,2.65e-23],[591.8,4.3e-23],[605,2.75e-23],[618.4,4.5e-23],[632,2.95e-23],[646,4.8e-23],[660.4,7.9e-23],[667.9,3.2e-23],[682.8,5.1e-23],[690,4e-21],[697.9,3.4e-23],[713.4,5.4e-23],[725.8,9.2e-23],[733.6,3.6e-23],[750,5.7e-23],[766.6,3.8e-23],[779.3,9.5e-23],[783.6,4e-23],[801,6.2e-23],[818.8,4e-23],[837,6.6e-23],[855.6,4.1e-23],[874.6,6.9e-23],[894,4.3e-23],[918.6,7.9e-23],[927.8,4.4e-23],[948,7.4e-23],[958.6,1.04e-22],[969.6,4.6e-23],[991,7.9e-23],[1013,4.8e-23],[1024,1.16e-22],[1035,1.7e-21],[1047,5e-23],[1070,8.3e-23],[1083,8.8e-23],[1094,5.2e-23],[1106,1e-22],[1118,5.4e-23],[1136,1.27e-21],[1156,5.6e-23],[1181,8.8e-23],[1207,5.8e-23],[1234,1.37e-22],[1247,9.5e-23],[1261,6e-23],[1289,1e-22],[1317,6.2e-23],[1346,1.04e-22],[1375,6.4e-23],[1390,1.06e-21],[1406,1.08e-22],[1437,6.6e-23],[1469,1.12e-22],[1501,6.9e-23],[1534,1.18e-22],[1576,1.32e-22],[1588,7.3e-23],[1627,1.25e-22],[1660,7.6e-23],[1698,1.3e-22],[1745,5.6e-22],[1774,7.9e-23],[1813,1.37e-22],[1853,8.3e-23],[1894,1.45e-22],[1936,8.6e-23],[1978,1.5e-22],[2022,8.9e-23],[2067,1.6e-22],[2082,4.2e-22],[2105,9.3e-23],[2152,1.7e-22],[2199,9.6e-23],[2248,1.75e-22],[2297,2e-22],[2322,1e-22],[2374,1.85e-22],[2426,3.5e-22],[2452,1.04e-22],[2506,1.9e-22],[2561,1.08e-22],[2618,2e-22],[2676,1.12e-22],[2735,2.1e-22],[2780,3e-22],[2811,1.16e-22],[2873,2.2e-22],[2936,3e-22],[2968,1.2e-22],[3034,2.3e-22],[3101,1.26e-22],[3134,5.2e-21],[3170,2.4e-22],[3240,1.3e-22],[3311,2.5e-22],[3394,2.9e-22],[3437,1.35e-22],[3513,2.55e-22],[3590,1.4e-22],[3648,3.5e-22],[3689,1.45e-22],[3771,1.6e-21],[3812,2.65e-22],[3896,1.45e-22],[3982,2.8e-22],[4000,1.5e-22]];

// noise-band envelopes: [frequency, lower edge, upper edge]
const s1Band = [[130,9e-21,1.5e-20],[150,3.8e-21,7e-21],[190,2.1e-21,5e-21],[225,2e-21,5.5e-21],[300,2e-21,5.3e-21],[390,2e-21,5.5e-21],[500,2.1e-21,6.5e-21],[670,2.9e-21,8.6e-21],[800,3.5e-21,1.1e-20],[1000,4.8e-21,1.4e-20],[1150,5.6e-21,1.8e-20],[1500,7e-21,2.4e-20],[1980,9.4e-21,3.3e-20],[2500,1.15e-20,4.3e-20],[3400,1.3e-20,5.2e-20],[4000,1.4e-20,5.5e-20]];
const s2Band = [[75,1.6e-21,2e-21],[100,8.5e-22,1.3e-21],[131,3.5e-22,7e-22],[160,2.4e-22,4.3e-22],[225,1.9e-22,4.5e-22],[390,2.9e-22,5.3e-22],[500,5e-22,8.5e-22],[670,8.2e-22,1.35e-21],[1000,1.45e-21,3e-21],[1150,1.6e-21,3.8e-21],[1980,2.8e-21,6.3e-21],[3400,4.5e-21,1e-20],[4000,4.6e-21,1.07e-20]];
const s3Band = [[85,1.05e-22,1.3e-22],[100,7e-23,1.05e-22],[131,4.5e-23,8e-23],[225,6.5e-23,1.3e-22],[390,1.4e-22,2.6e-22],[670,2.2e-22,4e-22],[1150,3.5e-22,1.6e-21],[1980,9.5e-22,3.6e-21],[3400,1.65e-21,5.3e-21],[4000,1.75e-21,5.4e-21]];
const s4Band = [[62,1.3e-22,1.5e-22],[100,5e-23,6.8e-23],[131,4.1e-23,5.8e-23],[225,5.6e-23,9e-23],[390,1e-22,1.6e-22],[670,1.25e-22,2.1e-22],[1150,2.4e-22,4.4e-22],[1980,4.4e-22,1.1e-21],[3400,5.4e-22,1.7e-21],[4000,5.8e-22,1.75e-21]];
const s5Band = [[65,6.5e-23,7.5e-23],[100,2.4e-23,5e-23],[131,2e-23,4e-23],[225,1.65e-23,4e-23],[390,4.2e-23,7.8e-23],[670,5e-23,1.28e-22],[1150,8.5e-23,2.5e-22],[1980,1e-22,4.4e-22],[3400,2e-22,8e-22],[4000,2.1e-22,8.6e-22]];
const s6Band = [[90,3.1e-23,3.5e-23],[100,2.5e-23,2.9e-23],[131,1.8e-23,2.15e-23],[225,1.55e-23,1.95e-23],[390,2.25e-23,2.8e-23],[670,3.4e-23,4.8e-23],[1150,5.6e-23,8.6e-23],[1980,8.4e-23,1.32e-22],[3400,1.48e-22,2.6e-22],[4000,1.52e-22,2.7e-22]];

// axes: grid positions and labelled decades
const xMin = 20, xMax = 4000, yMin = 1e-23, yMax = 1e-16;
const xGridTicks = [20,30,40,50,60,70,80,90,100,200,300,400,500,600,700,800,900,1000,2000,3000,4000];
const yDecades = [-23,-22,-21,-20,-19,-18,-17];
const yMantissas = [1,2,3,4,5,6,7,8,9];
const yGridTicks = [];
yDecades.forEach(e => yMantissas.forEach(m => yGridTicks.push(Number(m + 'e' + e))));
yGridTicks.push(1e-16);
const xLabelExps = [2, 3];
const yLabelExps = [-16,-17,-18,-19,-20,-21,-22,-23];
const xTitle = 'Frequency [Hz]';
const yTitleMain = 'Ampl. spectral density [Hz ';
const yTitleSup = '\u22120.5';
const yTitleEnd = ']';
const creditText = '[LIGO/LSC]';

const allSeries = [s1, s2, s3, s4, s5, s6];
const allBands = [s1Band, s2Band, s3Band, s4Band, s5Band, s6Band];
const FONT = '"Liberation Sans", Arial, Helvetica, sans-serif';
const GRAY = '#858585';

const overlay = {
  id: 'overlay',
  afterDraw(chart) {
    const ctx = chart.ctx, a = chart.chartArea, xs = chart.scales.x, ys = chart.scales.y;
    ctx.save();
    ctx.strokeStyle = '#7a7a7a'; ctx.lineWidth = 2;
    ctx.strokeRect(a.left, a.top, a.right - a.left, a.bottom - a.top);
    const lgLeft = 773, lgBottom = 325;
    ctx.fillStyle = '#ffffff';
    ctx.fillRect(lgLeft, a.top + 1, a.right - lgLeft - 1, lgBottom - a.top - 1);
    ctx.strokeStyle = '#7a7a7a'; ctx.lineWidth = 1.5;
    xGridTicks.forEach(v => { const px = Math.round(xs.getPixelForValue(v)) + 0.5; ctx.beginPath(); ctx.moveTo(px, a.top); ctx.lineTo(px, a.top + 8); ctx.stroke(); });
    yGridTicks.forEach(v => { const py = Math.round(ys.getPixelForValue(v)) + 0.5; ctx.beginPath(); ctx.moveTo(a.right, py); ctx.lineTo(a.right - 8, py); ctx.stroke(); });
    seriesLabels.forEach((lab, i) => {
      const cy = 73.3 + i * 44.7;
      ctx.strokeStyle = seriesColors[i]; ctx.lineWidth = i === 5 ? 3 : 6; ctx.lineCap = 'butt';
      ctx.beginPath(); ctx.moveTo(791, cy); ctx.lineTo(872, cy); ctx.stroke();
      ctx.fillStyle = '#000'; ctx.font = 'bold 32px ' + FONT; ctx.textAlign = 'left'; ctx.textBaseline = 'alphabetic';
      ctx.fillText(lab, 882, cy + 12.5);
    });
    ctx.fillStyle = GRAY; ctx.textBaseline = 'alphabetic';
    yLabelExps.forEach(e => {
      const py = ys.getPixelForValue(Number('1e' + e));
      const rx = a.left - 45;
      ctx.font = 'bold 30px ' + FONT; ctx.textAlign = 'right';
      ctx.fillText('10', rx, py + 13.5);
      ctx.font = 'bold 21px ' + FONT; ctx.textAlign = 'left';
      ctx.fillText('\u2212' + Math.abs(e), rx, py - 7.5);
    });
    xLabelExps.forEach(e => {
      const px = xs.getPixelForValue(Number('1e' + e));
      ctx.font = 'bold 30px ' + FONT; const w1 = ctx.measureText('10').width;
      ctx.font = 'bold 21px ' + FONT; const w2 = ctx.measureText(String(e)).width;
      const x0 = px - (w1 + w2) / 2;
      ctx.textAlign = 'left';
      ctx.font = 'bold 30px ' + FONT; ctx.fillText('10', x0, a.bottom + 49.5);
      ctx.font = 'bold 21px ' + FONT; ctx.fillText(String(e), x0 + w1, a.bottom + 28.5);
    });
    ctx.fillStyle = '#000'; ctx.font = 'bold 32px ' + FONT; ctx.textAlign = 'center';
    ctx.fillText(xTitle, 641, 986);
    ctx.save();
    ctx.font = 'bold 31px ' + FONT; const t1 = ctx.measureText(yTitleMain).width;
    ctx.font = 'bold 21px ' + FONT; const t2 = ctx.measureText(yTitleSup).width;
    ctx.font = 'bold 31px ' + FONT; const t3 = ctx.measureText(yTitleEnd).width;
    const total = t1 + t2 + t3;
    ctx.translate(52, 455); ctx.rotate(-Math.PI / 2);
    ctx.textAlign = 'left';
    const sx = -total / 2;
    ctx.fillText(yTitleMain, sx, 0);
    ctx.font = 'bold 21px ' + FONT; ctx.fillText(yTitleSup, sx + t1, -14);
    ctx.font = 'bold 31px ' + FONT; ctx.fillText(yTitleEnd, sx + t1 + t2, 0);
    ctx.restore();
    ctx.save();
    ctx.fillStyle = '#ff6a00'; ctx.font = '53px "Liberation Sans Narrow", "DejaVu Sans Condensed", sans-serif'; ctx.textAlign = 'left';
    const cw = ctx.measureText(creditText).width;
    ctx.translate(138, 1003); ctx.scale(224 / cw, 1);
    ctx.fillText(creditText, 0, 0);
    ctx.restore();
    ctx.restore();
  }
};

const datasets = [];
allSeries.forEach((s, i) => {
  datasets.push({
    label: seriesLabels[i],
    data: s.map(p => ({ x: p[0], y: p[1] })),
    borderColor: seriesColors[i],
    borderWidth: i === 5 ? 2.2 : 6,
    pointRadius: 0, tension: 0, fill: false,
    borderJoinStyle: 'round', borderCapStyle: 'round',
    clip: 0, order: 2 * (5 - i)
  });
  const b = allBands[i];
  datasets.push({
    label: '', data: b.map(p => ({ x: p[0], y: p[2] })),
    borderColor: 'rgba(0,0,0,0)', borderWidth: 0, pointRadius: 0, tension: 0,
    backgroundColor: seriesColors[i], fill: '+1', clip: 0, order: 2 * (5 - i) + 1
  });
  datasets.push({
    label: '', data: b.map(p => ({ x: p[0], y: p[1] })),
    borderColor: 'rgba(0,0,0,0)', borderWidth: 0, pointRadius: 0, tension: 0,
    fill: false, clip: 0, order: 2 * (5 - i) + 1
  });
});

const gridOpts = { color: '#9a9a9a', lineWidth: 1.3, drawTicks: false, tickLength: 0 };
new Chart(document.getElementById('c'), {
  type: 'line',
  data: { datasets },
  options: {
    responsive: false, animation: false, devicePixelRatio: 1,
    layout: { padding: { left: 152, top: 34.5, right: 5, bottom: 96.5 } },
    plugins: { legend: { display: false }, tooltip: { enabled: false }, filler: { drawTime: 'beforeDatasetDraw' } },
    scales: {
      x: { type: 'logarithmic', min: xMin, max: xMax, grid: gridOpts, border: { display: false },
           ticks: { display: false, autoSkip: false, callback: () => '' },
           afterBuildTicks: sc => { sc.ticks = xGridTicks.map(v => ({ value: v })); } },
      y: { type: 'logarithmic', min: yMin, max: yMax, grid: gridOpts, border: { display: false },
           ticks: { display: false, autoSkip: false, callback: () => '' },
           afterBuildTicks: sc => { sc.ticks = yGridTicks.map(v => ({ value: v })); } }
    }
  },
  plugins: [overlay]
});
</script>
</body></html>
